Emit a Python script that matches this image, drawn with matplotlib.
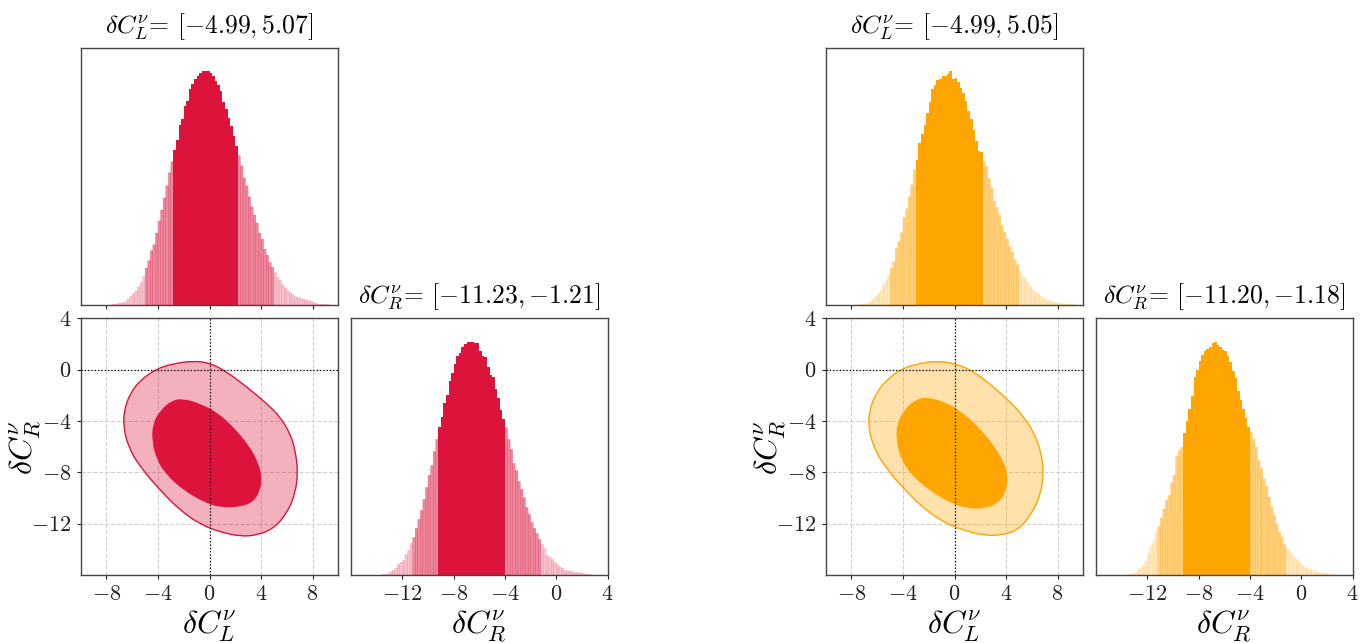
import numpy as np
import matplotlib
matplotlib.use("Agg")
import matplotlib.pyplot as plt
from matplotlib.ticker import FuncFormatter
from matplotlib.path import Path
from matplotlib.patches import PathPatch

plt.rcParams['mathtext.fontset'] = 'cm'
plt.rcParams['font.family'] = 'serif'
plt.rcParams['font.serif'] = ['cmr10', 'DejaVu Serif']
plt.rcParams['axes.formatter.use_mathtext'] = True

# ---- datos ----
bin_w = 0.2

# histograma dC_L (rojo), altura relativa al pico (=100)
red_L_start = -7.6
red_L = [0.3, 0.4, 0.6, 0.8, 1.1, 1.4, 2.6, 3.7, 5.0, 6.0, 7.7, 9.6, 12.2, 15.8, 19.0, 23.2, 25.8,
         30.8, 36.0, 40.7, 45.8, 51.0, 56.6, 61.3, 66.5, 70.8, 77.1, 79.8, 85.2, 87.5, 92.3, 94.4,
         96.8, 98.1, 99.1, 100, 100, 100, 99.4, 98.0, 96.0, 94.0, 91.4, 87.1, 83.7, 80.2, 76.8,
         72.5, 68.2, 63.9, 59.6, 54.4, 51.0, 46.3, 42.0, 38.5, 35.1, 30.8, 28.2, 23.9, 21.3, 18.2,
         16.2, 14.0, 11.9, 10.5, 8.7, 7.4, 6.2, 5.3, 4.3, 3.6, 3.2, 2.9, 2.6, 2.1, 1.9, 1.6, 1.1,
         0.7, 0.4, 0.3, 0.3, 0.2, 0.1]
red_L_1s = [-2.8, 2.2]
red_L_2s = [-5.0, 5.0]

# histograma dC_R (rojo)
red_R_start = -13.6
red_R = [0.3, 0.4, 0.5, 1.4, 2.0, 2.9, 4.6, 5.4, 6.3, 8.8, 10.6, 13.6, 16.1, 20.0, 23.8, 27.7,
         32.4, 37.5, 42.8, 46.9, 52.9, 58.1, 63.6, 67.9, 73.5, 77.3, 83.3, 86.7, 90.6, 94.0, 95.3,
         97.9, 99.1, 100, 100, 100, 99.6, 99.4, 96.1, 94.0, 93.6, 89.3, 85.9, 85.0, 79.5, 76.0,
         70.9, 67.0, 63.2, 58.1, 53.8, 47.8, 44.8, 40.1, 36.7, 33.2, 29.0, 26.0, 22.5, 20.0, 17.8,
         15.3, 13.1, 11.4, 8.4, 7.6, 6.7, 5.4, 4.6, 3.4, 2.9, 2.0, 1.7, 1.7, 1.4, 1.1, 1.0, 0.9,
         0.7, 0.4, 0.3, 0.2]
red_R_1s = [-9.2, -4.0]
red_R_2s = [-11.2, -1.2]

# histograma dC_L (naranja)
org_L_start = -7.6
org_L = [0.1, 0.2, 0.3, 0.5, 0.7, 1.4, 2.4, 3.6, 4.7, 6.2, 8.6, 10.4, 12.9, 15.7, 18.6, 24.3, 27.2,
         31.0, 37.6, 41.2, 46.4, 51.5, 57.9, 62.2, 69.4, 73.0, 77.1, 82.0, 87.1, 92.3, 94.0, 96.1,
         96.6, 98.0, 98.0, 98.9, 100, 96.7, 97.3, 95.4, 93.0, 90.6, 87.4, 83.0, 79.4, 74.7, 70.1,
         65.8, 65.4, 61.5, 59.4, 54.1, 50.1, 44.5, 41.8, 38.6, 33.9, 31.2, 28.3, 24.9, 22.7, 19.6,
         17.2, 14.4, 12.6, 11.4, 9.6, 7.9, 6.7, 5.4, 4.7, 3.9, 2.9, 2.4, 2.0, 1.7, 1.3, 1.0, 0.7,
         0.6, 0.5, 0.4, 0.3, 0.2, 0.1]
org_L_1s = [-3.0, 2.2]
org_L_2s = [-5.0, 5.0]

# histograma dC_R (naranja)
org_R_start = -13.6
org_R = [0.3, 0.3, 0.6, 1.1, 2.3, 3.1, 4.1, 6.0, 9.4, 12.4, 14.6, 18.1, 20.7, 24.5, 28.4, 32.0,
         34.1, 39.5, 42.7, 50.9, 53.4, 54.8, 60.9, 66.2, 71.2, 76.5, 84.7, 87.9, 91.9, 94.4, 96.1,
         97.0, 97.9, 99.4, 100, 98.7, 97.9, 96.6, 95.9, 94.0, 91.4, 87.6, 84.3, 79.0, 74.8, 71.2,
         67.3, 63.3, 61.2, 58.3, 54.8, 49.1, 45.5, 41.2, 38.1, 33.4, 29.1, 25.5, 22.0, 18.4, 16.3,
         13.0, 11.3, 10.3, 8.8, 7.4, 6.6, 5.6, 4.1, 3.4, 2.9, 2.4, 2.0, 1.6, 1.1, 1.0, 0.7, 0.6,
         0.4, 0.3, 0.2, 0.1]
org_R_1s = [-9.2, -4.0]
org_R_2s = [-11.2, -1.2]

# intervalos de los titulos
red_L_title = [-4.99, 5.07]
red_R_title = [-11.23, -1.21]
org_L_title = [-4.99, 5.05]
org_R_title = [-11.20, -1.18]

# contornos 2D (dC_L, dC_R)
red_out_x = [-4.09, -2.8, -1.24, 0.05, 1.35, 2.9, 4.46, 5.49, 6.27, 6.66, 6.87, 6.66, 6.01, 4.97,
             3.68, 2.38, 0.83, -0.73, -2.28, -3.83, -5.39, -6.3, -6.68, -6.63, -6.17, -5.39]
red_out_y = [0.08, 0.47, 0.68, 0.52, -0.18, -1.35, -2.65, -3.69, -4.99, -6.29, -7.97, -9.66, -11.2,
             -12.39, -12.9, -12.99, -12.65, -12.05, -10.96, -9.4, -7.58, -6.03, -4.47, -3.17, -1.87, -0.83]
red_in_x = [-2.02, -0.73, 0.57, 1.87, 3.16, 3.81, 4.07, 3.94, 3.42, 2.38, 0.83, -0.47, -2.02, -3.32,
            -4.09, -4.48, -4.4, -3.83, -2.93]
red_in_y = [-2.26, -2.65, -3.3, -4.47, -6.03, -7.32, -8.36, -9.4, -10.31, -10.7, -10.75, -10.31, -9.4,
            -8.23, -7.06, -5.5, -4.21, -3.17, -2.39]

org_out_x = [-4.09, -2.8, -1.37, 0.05, 1.35, 2.9, 4.46, 5.49, 6.27, 6.74, 6.92, 6.71, 6.01, 4.97,
             3.68, 2.25, 0.7, -0.73, -2.28, -3.83, -5.39, -6.3, -6.68, -6.61, -6.11, -5.26]
org_out_y = [0.08, 0.47, 0.68, 0.47, -0.05, -1.22, -2.65, -3.82, -5.12, -6.55, -7.97, -9.66, -11.22,
             -12.47, -12.91, -12.91, -12.52, -11.95, -10.91, -9.4, -7.58, -6.03, -4.47, -3.17, -1.87, -0.78]
org_in_x = [-2.15, -0.73, 0.57, 1.87, 3.16, 3.89, 4.15, 3.99, 3.42, 2.38, 0.96, -0.47, -2.02, -3.32,
            -4.15, -4.53, -4.46, -3.89, -3.06]
org_in_y = [-2.13, -2.52, -3.3, -4.47, -6.03, -7.32, -8.36, -9.53, -10.39, -10.83, -10.83, -10.31,
            -9.35, -8.23, -7.01, -5.5, -4.21, -3.12, -2.34]

L_ticks = [-8, -4, 0, 4, 8]
R_ticks = [-12, -8, -4, 0, 4]
L_lim = [-10, 10]
R_lim = [-16, 4]

W = 1370.0
H = 643.0


def rect(x0, y0, x1, y1):
    return [x0 / W, 1 - y1 / H, (x1 - x0) / W, (y1 - y0) / H]


fmt = FuncFormatter(lambda v, p: "$%d$" % v)


def estilo(ax):
    for s in ax.spines.values():
        s.set_color('#444444')
        s.set_linewidth(1.0)
    ax.tick_params(direction='out', length=3, width=0.8, colors='#222222', labelsize=16)


def histo(ax, start, h, s1, s2, color, lim, ticks):
    h = np.array(h)
    edges = start + bin_w * np.arange(len(h))
    centers = edges + bin_w / 2
    a = np.full(len(h), 0.25)
    a[(centers > s2[0]) & (centers < s2[1])] = 0.5
    a[(centers > s1[0]) & (centers < s1[1])] = 1.0
    for alpha in [0.25, 0.5]:
        m = a == alpha
        ax.bar(edges[m], h[m], width=bin_w, align='edge', color=color, alpha=alpha,
               edgecolor=color, linewidth=0.25, snap=False)
    m = a == 1.0
    ax.bar(edges[m], h[m], width=bin_w, align='edge', color=color, linewidth=0)
    ax.set_xlim(lim)
    ax.set_ylim(0, 110)
    ax.set_xticks(ticks)
    ax.set_yticks([])
    estilo(ax)


def suave(xs, ys):
    # contorno cerrado suavizado con curvas de Bezier cuadraticas
    p = np.column_stack([xs, ys])
    q = np.roll(p, -1, axis=0)
    mid = (p + q) / 2
    verts = [mid[-1]]
    codes = [Path.MOVETO]
    for i in range(len(p)):
        verts += [p[i], mid[i]]
        codes += [Path.CURVE3, Path.CURVE3]
    return Path(verts, codes)


def titulo(ax, name, iv):
    ax.set_title(r"$\delta C_%s^\nu$= $[{%.2f}, {%.2f}]$" % (name, iv[0], iv[1]),
                 fontsize=18.5, pad=11)


def esquina(x_off, color, Lh, Ls, L1, L2, Rh, Rs, R1, R2, Lt, Rt, ox, oy, ix, iy):
    ax1 = fig.add_axes(rect(x_off + 80.7, 48, x_off + 338.3, 305))
    histo(ax1, Ls, Lh, L1, L2, color, L_lim, L_ticks)
    ax1.set_xticklabels([])
    titulo(ax1, 'L', Lt)

    ax2 = fig.add_axes(rect(x_off + 80.7, 318.3, x_off + 338.3, 575))
    ax2.set_axisbelow(True)
    ax2.grid(True, ls='--', color='#d0d0d0', lw=0.8)
    ax2.add_patch(PathPatch(suave(ox, oy), facecolor=color, alpha=0.33, edgecolor='none', zorder=2))
    ax2.add_patch(PathPatch(suave(ox, oy), facecolor='none', edgecolor=color, lw=1.0, zorder=3))
    ax2.add_patch(PathPatch(suave(ix, iy), facecolor=color, edgecolor='none', zorder=3))
    ax2.axvline(0, color='k', ls=':', lw=0.9, zorder=4)
    ax2.axhline(0, color='k', ls=':', lw=0.9, zorder=4)
    ax2.set_xlim(L_lim)
    ax2.set_ylim(R_lim)
    ax2.set_xticks(L_ticks)
    ax2.set_yticks(R_ticks)
    ax2.xaxis.set_major_formatter(fmt)
    ax2.yaxis.set_major_formatter(fmt)
    estilo(ax2)
    ax2.set_xlabel(r"$\delta C_L^\nu$", fontsize=23)
    ax2.xaxis.set_label_coords(0.5, -0.13)
    ax2.set_ylabel(r"$\delta C_R^\nu$", fontsize=23)
    ax2.yaxis.set_label_coords(-0.145, 0.5)

    ax3 = fig.add_axes(rect(x_off + 351, 318.3, x_off + 607.7, 575))
    histo(ax3, Rs, Rh, R1, R2, color, R_lim, R_ticks)
    ax3.xaxis.set_major_formatter(fmt)
    ax3.set_xlabel(r"$\delta C_R^\nu$", fontsize=23)
    ax3.xaxis.set_label_coords(0.5, -0.13)
    titulo(ax3, 'R', Rt)


fig = plt.figure(figsize=(13.7, 6.43), dpi=100)

esquina(0, '#DC143C', red_L, red_L_start, red_L_1s, red_L_2s, red_R, red_R_start, red_R_1s, red_R_2s,
        red_L_title, red_R_title, red_out_x, red_out_y, red_in_x, red_in_y)
esquina(745, '#FFA500', org_L, org_L_start, org_L_1s, org_L_2s, org_R, org_R_start, org_R_1s, org_R_2s,
        org_L_title, org_R_title, org_out_x, org_out_y, org_in_x, org_in_y)

fig.savefig('out.png', dpi=100)
